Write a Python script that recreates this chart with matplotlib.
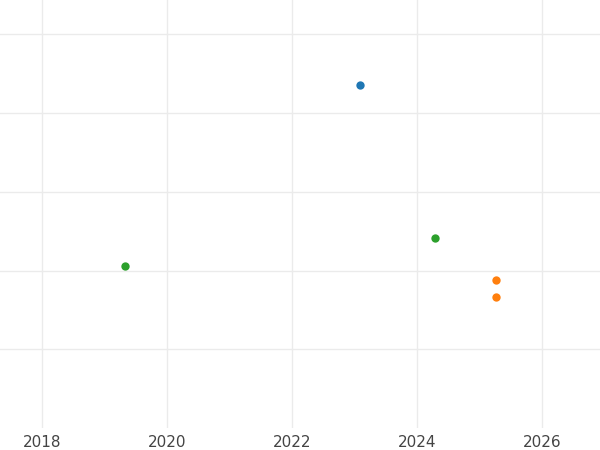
import numpy as np
import pandas as pd
import matplotlib
matplotlib.use("Agg")
from matplotlib import pyplot as plt
import matplotlib.dates as mdates

# point data
blue_dates = ["2023-02-01"]
blue_values = [4.35]
orange_dates = ["2025-04-05", "2025-04-05"]
orange_values = [1.88, 1.66]
green_dates = ["2019-05-01", "2024-04-15"]
green_values = [2.06, 2.41]

x_ticks = ["2018", "2020", "2022", "2024", "2026"]
y_ticks = [1, 2, 3, 4, 5]

fig = plt.figure(figsize=(6, 4.5), dpi=100)
ax = fig.add_axes([0, 22 / 450, 1, 428 / 450])

ax.scatter(pd.to_datetime(blue_dates), blue_values, s=36, color="#1f77b4", zorder=3, linewidths=0)
ax.scatter(pd.to_datetime(orange_dates), orange_values, s=36, color="#ff7f0e", zorder=3, linewidths=0)
ax.scatter(pd.to_datetime(green_dates), green_values, s=36, color="#2ca02c", zorder=3, linewidths=0)

# axes
ax.set_xlim(pd.Timestamp("2017-05-01"), pd.Timestamp("2026-12-05"))
ax.set_ylim(0, 428 / 78.75)
ax.set_xticks(pd.to_datetime([t + "-01-01" for t in x_ticks]))
ax.xaxis.set_major_formatter(mdates.DateFormatter("%Y"))
ax.set_yticks(y_ticks)
ax.set_yticklabels([])
ax.tick_params(length=0, labelsize=11, labelcolor="#444444", pad=5)
ax.grid(True, color="#ebebeb", linewidth=1.0)
ax.set_axisbelow(True)
for s in ax.spines.values():
    s.set_visible(False)

fig.savefig("out.png", dpi=100)
